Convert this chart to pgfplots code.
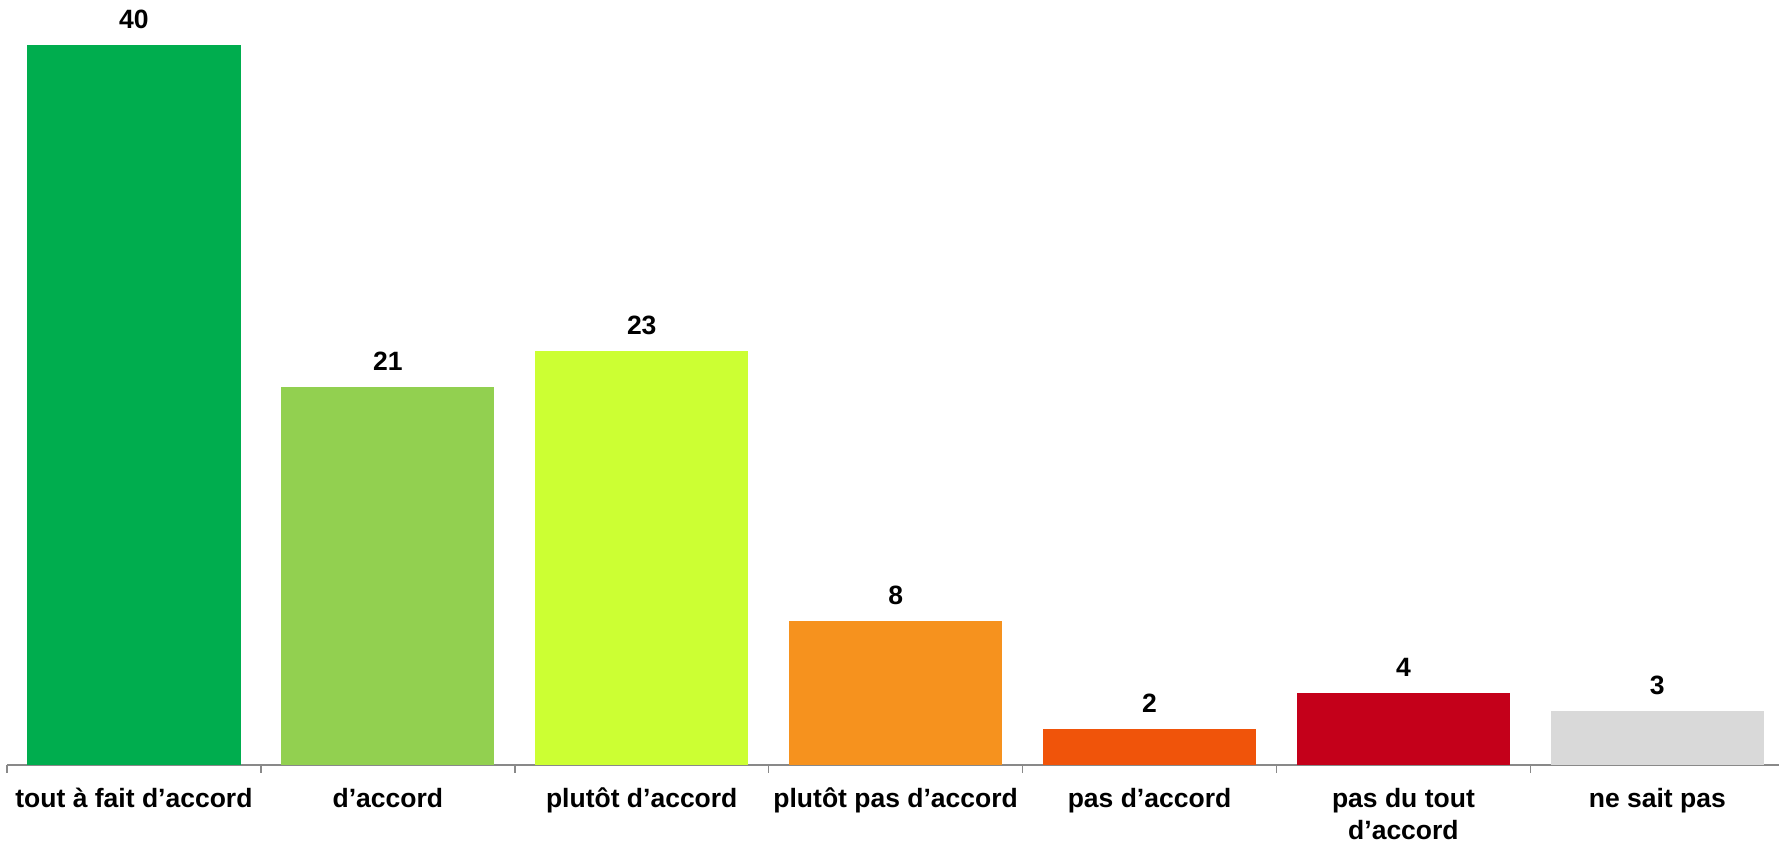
\documentclass[border=0pt]{standalone}
\usepackage{fontspec}
\setmainfont{Liberation Sans}
\usepackage{pgfplots}
\pgfplotsset{compat=1.18}

\definecolor{c1}{RGB}{0,173,78}
\definecolor{c2}{RGB}{146,208,80}
\definecolor{c3}{RGB}{204,255,51}
\definecolor{c4}{RGB}{246,146,30}
\definecolor{c5}{RGB}{240,84,10}
\definecolor{c6}{RGB}{196,0,26}
\definecolor{c7}{RGB}{217,217,217}
\definecolor{axgray}{RGB}{137,137,137}

\begin{document}
\begin{tikzpicture}[font=\fontsize{13.25}{16}\selectfont\bfseries]
\path[use as bounding box] (-3.5pt,-38pt) rectangle (886pt,382.5pt);
\begin{axis}[
    at={(0,0)}, anchor=south west,
    scale only axis,
    width=888.65pt, height=360pt,
    xmin=-0.5, xmax=6.5,
    ymin=0, ymax=40,
    clip=false,
    axis y line=none,
    axis x line=bottom,
    x axis line style={-, draw=axgray, line width=0.75pt},
    xtick={0,...,6},
    major tick length=0pt,
    minor xtick={-0.5,0.5,...,6.5},
    minor tick length=4pt,
    tick align=outside,
    tick style={draw=axgray, line width=0.75pt},
    xticklabels={tout à fait d’accord, d’accord, plutôt d’accord, plutôt pas d’accord, pas d’accord, {pas du tout\\d’accord}, ne sait pas},
    xticklabel style={align=center, anchor=north, yshift=-8pt,
        font=\fontsize{13.25}{16}\selectfont\bfseries},
    ybar,
    bar width=0.84,
    every axis plot/.append style={bar shift=0pt, draw=none},
    nodes near coords,
    /pgf/number format/assume math mode=true,
    every node near coord/.append style={anchor=base, yshift=8.25pt,
        font=\fontsize{13.25}{16}\selectfont\bfseries, text=black},
]
\addplot[fill=c1] coordinates {(0,40)};
\addplot[fill=c2] coordinates {(1,21)};
\addplot[fill=c3] coordinates {(2,23)};
\addplot[fill=c4] coordinates {(3,8)};
\addplot[fill=c5] coordinates {(4,2)};
\addplot[fill=c6] coordinates {(5,4)};
\addplot[fill=c7] coordinates {(6,3)};
\end{axis}
\end{tikzpicture}
\end{document}
